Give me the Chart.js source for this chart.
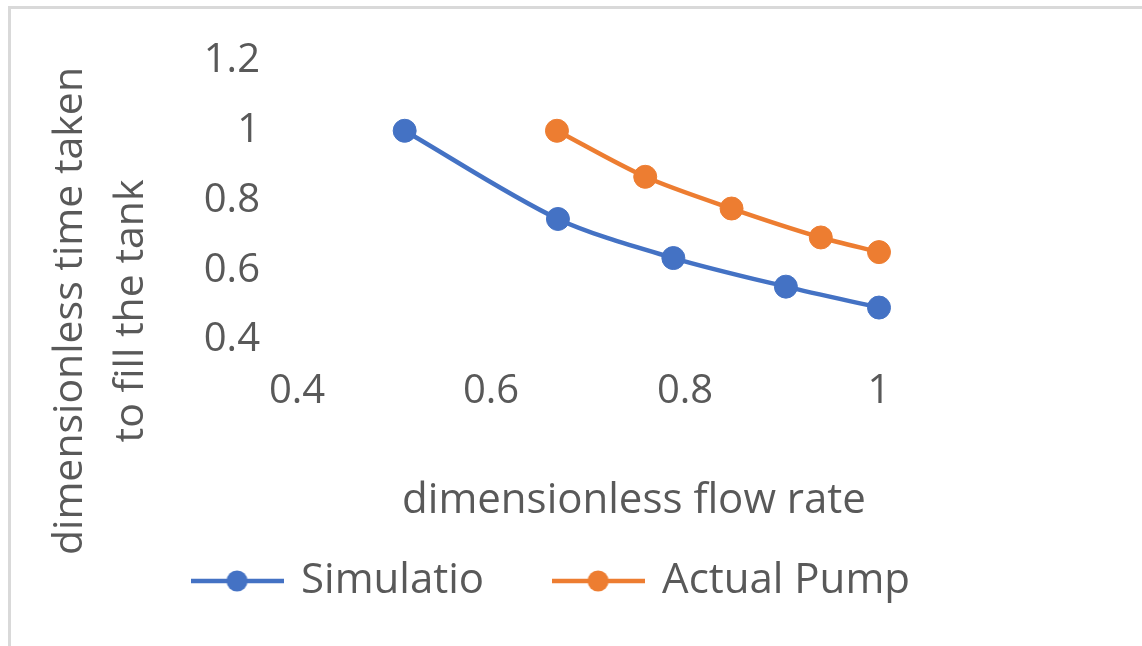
<!DOCTYPE html>
<html>
<head>
<meta charset="utf-8">
<script src="https://cdn.jsdelivr.net/npm/chart.js@4.4.1/dist/chart.umd.min.js"></script>
<style>
  html, body { margin: 0; padding: 0; background: #fff; overflow: hidden; }
  #frame {
    position: absolute; left: 8px; top: 6px; width: 1200px; height: 700px;
    border-top: 3px solid #d9d9d9; border-left: 3px solid #d9d9d9;
  }
  #chart { position: absolute; left: 0; top: 0; }
</style>
</head>
<body>
<div id="frame"></div>
<canvas id="chart" width="1104" height="646"></canvas>
<script>
// values
const seriesNames = ['Simulatio', 'Actual Pump'];
const simFlow = [0.511, 0.669, 0.788, 0.904, 1.0];
const simTime = [1.0, 0.747, 0.635, 0.553, 0.493];
const pumpFlow = [0.668, 0.759, 0.848, 0.940, 1.0];
const pumpTime = [1.0, 0.868, 0.777, 0.694, 0.652];
const xTicks = [0.4, 0.6, 0.8, 1];
const yTicks = [0.4, 0.6, 0.8, 1, 1.2];
const xTitle = 'dimensionless flow rate';
const yTitle = ['dimensionless time taken', 'to fill the tank'];

const blue = '#4472c4';
const orange = '#ed7d31';
const textColor = '#595959';

Chart.defaults.font.family = "'Open Sans', sans-serif";
Chart.defaults.color = textColor;

// little line + dot picture for the legend
function legendIcon(color) {
  const c = document.createElement('canvas');
  c.width = 93;
  c.height = 26;
  const g = c.getContext('2d');
  g.strokeStyle = color;
  g.lineWidth = 4.5;
  g.beginPath();
  g.moveTo(0, 13);
  g.lineTo(93, 13);
  g.stroke();
  g.fillStyle = color;
  g.beginPath();
  g.arc(46.5, 13, 10.5, 0, Math.PI * 2);
  g.fill();
  return c;
}
const legendIcons = [legendIcon(blue), legendIcon(orange)];

// axis titles sit where the original put them, not centred on the plot
const axisTitles = {
  id: 'axisTitles',
  afterDraw(chart) {
    const ctx = chart.ctx;
    ctx.save();
    ctx.fillStyle = textColor;
    ctx.font = "42px 'Open Sans'";
    ctx.textAlign = 'center';
    ctx.textBaseline = 'alphabetic';
    ctx.fillText(xTitle, 634, 513);
    ctx.font = "41px 'Open Sans'";
    yTitle.forEach((line, i) => {
      ctx.save();
      ctx.translate(82 + i * 61, 311);
      ctx.rotate(-Math.PI / 2);
      ctx.fillText(line, 0, 0);
      ctx.restore();
    });
    ctx.restore();
  }
};

function toPoints(xs, ys) {
  return xs.map((x, i) => ({ x: x, y: ys[i] }));
}

const fmt = (v) => String(+Number(v).toFixed(2));

new Chart(document.getElementById('chart'), {
  type: 'scatter',
  data: {
    datasets: [
      {
        label: seriesNames[0],
        data: toPoints(simFlow, simTime),
        showLine: true,
        clip: false,
        borderColor: blue,
        backgroundColor: blue,
        borderWidth: 4.5,
        pointRadius: 11.5,
        pointBorderWidth: 1,
        tension: 0.3
      },
      {
        label: seriesNames[1],
        data: toPoints(pumpFlow, pumpTime),
        showLine: true,
        clip: false,
        borderColor: orange,
        backgroundColor: orange,
        borderWidth: 4.5,
        pointRadius: 11.5,
        pointBorderWidth: 1,
        tension: 0.3
      }
    ]
  },
  options: {
    responsive: false,
    animation: false,
    layout: { padding: { left: 0, right: 0, top: 54, bottom: 34 } },
    scales: {
      x: {
        type: 'linear',
        min: 0.4,
        max: 1,
        grid: { display: false, drawTicks: false },
        border: { display: false },
        afterBuildTicks: (s) => { s.ticks = xTicks.map(v => ({ value: v })); },
        ticks: { font: { size: 40 }, color: textColor, padding: 28, callback: fmt },
        afterFit: (s) => { s.height = 149; }
      },
      y: {
        min: 0.4,
        max: 1.2,
        grid: { display: false, drawTicks: false },
        border: { display: false },
        afterBuildTicks: (s) => { s.ticks = yTicks.map(v => ({ value: v })); },
        ticks: { font: { size: 40 }, color: textColor, padding: 37, callback: fmt },
        afterFit: (s) => { s.width = 297; }
      },
      // empty box on the right so the plot ends where the original does
      spacer: {
        type: 'linear',
        position: 'right',
        grid: { display: false, drawTicks: false },
        border: { display: false },
        ticks: { display: false },
        afterFit: (s) => { s.width = 225; }
      }
    },
    plugins: {
      tooltip: { enabled: false },
      legend: {
        position: 'bottom',
        labels: {
          usePointStyle: true,
          pointStyleWidth: 86,
          padding: 71,
          color: textColor,
          font: { size: 42 },
          generateLabels: (chart) =>
            Chart.defaults.plugins.legend.labels.generateLabels(chart)
              .map((item, i) => ({ ...item, pointStyle: legendIcons[i] }))
        }
      }
    }
  },
  plugins: [axisTitles]
});
</script>
</body>
</html>
